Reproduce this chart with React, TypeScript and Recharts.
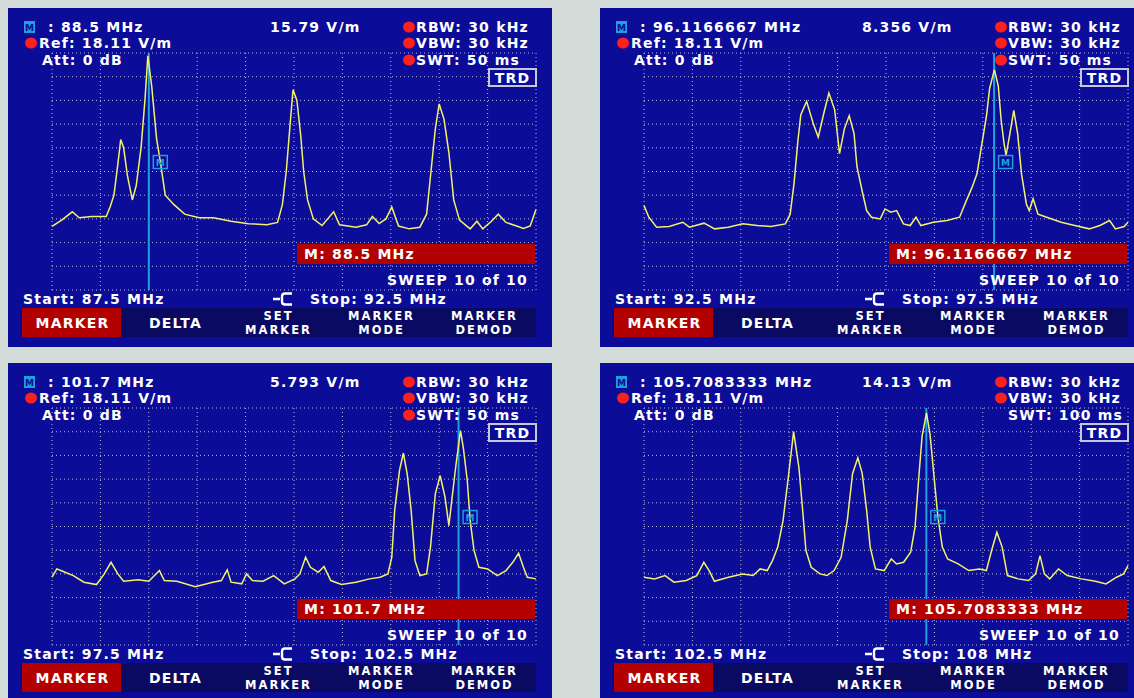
import React from "react";
import {
  LineChart,
  Line,
  XAxis,
  YAxis,
  CartesianGrid,
  ReferenceLine,
  ReferenceDot,
} from "recharts";

// trace levels are in screen divisions (0 = bottom grid line, 10 = reference level)

const p1Freq = [87.5, 87.6, 87.71, 87.78, 87.91, 88.06, 88.1, 88.14, 88.18, 88.21, 88.24, 88.28, 88.33, 88.37, 88.42, 88.46, 88.49, 88.53, 88.58, 88.62, 88.67, 88.76, 88.87, 89.02, 89.17, 89.35, 89.53, 89.72, 89.83, 89.88, 89.92, 89.96, 89.99, 90.03, 90.07, 90.1, 90.14, 90.2, 90.29, 90.41, 90.47, 90.64, 90.75, 90.81, 90.88, 90.95, 91.01, 91.08, 91.19, 91.3, 91.37, 91.41, 91.46, 91.5, 91.55, 91.6, 91.65, 91.71, 91.82, 91.89, 91.95, 92.04, 92.11, 92.19, 92.3, 92.37, 92.44, 92.5];
const p1Level = [2.68, 2.95, 3.3, 3.05, 3.1, 3.1, 3.5, 4.0, 5.3, 6.35, 6.0, 4.8, 3.8, 4.4, 6.0, 8.0, 9.88, 8.6, 6.4, 5.4, 4.0, 3.6, 3.2, 3.05, 3.05, 2.9, 2.8, 2.75, 2.85, 3.6, 5.0, 7.0, 8.45, 8.0, 6.5, 5.0, 3.8, 3.0, 2.72, 3.3, 2.75, 2.65, 2.75, 3.1, 2.8, 3.0, 3.5, 2.7, 2.58, 2.65, 3.2, 4.8, 6.8, 7.85, 7.2, 5.8, 3.8, 2.95, 2.58, 2.9, 2.58, 2.9, 3.2, 2.85, 2.7, 2.6, 2.7, 3.4];

const p2Freq = [92.5, 92.55, 92.63, 92.76, 92.9, 92.97, 93.12, 93.23, 93.37, 93.52, 93.67, 93.81, 93.96, 94.01, 94.05, 94.09, 94.12, 94.18, 94.25, 94.3, 94.36, 94.41, 94.47, 94.52, 94.57, 94.62, 94.67, 94.7, 94.76, 94.8, 94.85, 94.94, 94.99, 95.05, 95.11, 95.18, 95.25, 95.31, 95.36, 95.49, 95.63, 95.76, 95.83, 95.89, 95.94, 95.98, 96.04, 96.07, 96.12, 96.16, 96.19, 96.22, 96.24, 96.28, 96.32, 96.36, 96.4, 96.45, 96.48, 96.52, 96.57, 96.66, 96.81, 96.95, 97.1, 97.21, 97.31, 97.37, 97.46, 97.5];
const p2Level = [3.56, 3.07, 2.65, 2.68, 2.86, 2.65, 2.82, 2.58, 2.65, 2.79, 2.72, 2.68, 2.79, 3.2, 4.5, 6.3, 7.4, 7.96, 7.0, 6.45, 7.5, 8.31, 7.6, 5.75, 6.8, 7.35, 6.6, 5.2, 4.06, 3.35, 3.07, 3.0, 3.42, 3.28, 3.35, 2.79, 2.72, 3.07, 2.72, 2.86, 2.93, 3.07, 3.77, 4.34, 4.9, 5.9, 7.4, 8.5, 9.3, 8.6, 7.15, 6.17, 5.68, 6.6, 7.58, 6.6, 4.9, 3.63, 3.35, 3.85, 3.2, 3.07, 2.86, 2.72, 2.58, 2.72, 2.93, 2.58, 2.68, 2.86];

const p3Freq = [97.5, 97.55, 97.61, 97.72, 97.83, 97.96, 98.04, 98.11, 98.18, 98.24, 98.39, 98.5, 98.61, 98.66, 98.79, 98.98, 99.16, 99.25, 99.31, 99.35, 99.46, 99.51, 99.57, 99.68, 99.79, 99.9, 100.01, 100.06, 100.12, 100.17, 100.25, 100.31, 100.38, 100.49, 100.64, 100.78, 100.89, 100.97, 101.01, 101.04, 101.09, 101.13, 101.17, 101.21, 101.25, 101.3, 101.37, 101.41, 101.46, 101.51, 101.56, 101.6, 101.63, 101.67, 101.72, 101.75, 101.79, 101.82, 101.86, 101.91, 102.0, 102.1, 102.19, 102.26, 102.32, 102.37, 102.41, 102.5];
const p3Level = [2.86, 3.21, 3.11, 2.93, 2.65, 2.55, 3.0, 3.49, 3.0, 2.69, 2.75, 2.69, 3.14, 2.72, 2.69, 2.46, 2.65, 2.72, 3.17, 2.65, 2.58, 3.0, 2.72, 2.69, 2.93, 2.58, 2.79, 3.0, 3.7, 3.28, 3.07, 3.31, 2.72, 2.55, 2.65, 2.79, 2.86, 3.0, 3.7, 5.68, 7.37, 8.1, 7.2, 5.68, 3.56, 2.93, 3.0, 4.13, 6.38, 7.15, 6.24, 5.04, 6.1, 7.5, 9.05, 8.3, 6.94, 5.25, 3.99, 3.28, 3.21, 2.93, 3.14, 3.49, 3.87, 3.28, 2.86, 2.79];

const p4Freq = [102.5, 102.62, 102.74, 102.84, 102.98, 103.1, 103.18, 103.24, 103.3, 103.46, 103.62, 103.74, 103.82, 103.9, 103.96, 104.02, 104.08, 104.14, 104.2, 104.26, 104.3, 104.34, 104.4, 104.5, 104.58, 104.66, 104.74, 104.81, 104.87, 104.93, 104.98, 105.03, 105.07, 105.13, 105.23, 105.31, 105.37, 105.45, 105.53, 105.58, 105.62, 105.66, 105.71, 105.75, 105.8, 105.84, 105.89, 105.95, 106.07, 106.19, 106.31, 106.39, 106.45, 106.51, 106.57, 106.63, 106.75, 106.87, 106.95, 107.0, 107.05, 107.11, 107.21, 107.31, 107.47, 107.63, 107.75, 107.87, 107.95, 108.0];
const p4Level = [2.86, 2.79, 2.93, 2.65, 2.72, 2.93, 3.49, 3.14, 2.69, 2.86, 3.0, 2.93, 3.21, 3.14, 3.56, 4.13, 5.25, 7.08, 9.0, 7.5, 5.82, 3.99, 3.28, 3.0, 2.93, 3.14, 3.7, 5.25, 7.23, 7.9, 7.23, 5.68, 4.13, 3.21, 3.14, 3.63, 3.42, 3.49, 3.92, 4.97, 6.94, 8.8, 9.79, 8.9, 6.94, 5.4, 4.13, 3.63, 3.42, 3.14, 3.21, 3.14, 3.99, 4.76, 4.13, 2.93, 2.79, 2.72, 3.0, 3.77, 3.0, 2.79, 3.21, 2.93, 2.79, 2.69, 2.58, 2.86, 3.0, 3.35];

const p1Ticks = [87.5, 88, 88.5, 89, 89.5, 90, 90.5, 91, 91.5, 92, 92.5];
const p2Ticks = [92.5, 93, 93.5, 94, 94.5, 95, 95.5, 96, 96.5, 97, 97.5];
const p3Ticks = [97.5, 98, 98.5, 99, 99.5, 100, 100.5, 101, 101.5, 102, 102.5];
const p4Ticks = [102.5, 103.05, 103.6, 104.15, 104.7, 105.25, 105.8, 106.35, 106.9, 107.45, 108];
const levelTicks = [0, 1, 2, 3, 4, 5, 6, 7, 8, 9, 10];

const markerFreqs = [88.5, 96.1166667, 101.7, 105.7083333];
const markerLabels = ["88.5 MHz", "96.1166667 MHz", "101.7 MHz", "105.7083333 MHz"];
const markerValues = ["15.79 V/m", "8.356 V/m", "5.793 V/m", "14.13 V/m"];
const sweepTimes = ["50 ms", "50 ms", "50 ms", "100 ms"];
const startLabels = ["87.5 MHz", "92.5 MHz", "97.5 MHz", "102.5 MHz"];
const stopLabels = ["92.5 MHz", "97.5 MHz", "102.5 MHz", "108 MHz"];
const softkeys = [["MARKER"], ["DELTA"], ["SET", "MARKER"], ["MARKER", "MODE"], ["MARKER", "DEMOD"]];

const PAGE_BG = "#d4dcd9";
const SCREEN = "#0b0c98";
const STRIP = "#0a0a62";
const RED = "#b30000";
const DOT_RED = "#ff1f1f";
const TRACE = "#f2f26c";
const MARKER_BLUE = "#1f9fdc";
const GRID = "#b9b9dc";
const W = 544;
const H = 339;

const font = {
  fontFamily: "'DejaVu Sans', Verdana, sans-serif",
  fontWeight: 700,
  fontSize: 14,
  letterSpacing: 1.2,
  fill: "#ffffff",
} as const;

const keyFont = { ...font, fontSize: 11.5, letterSpacing: 2 } as const;

function MarkerBox(props: any) {
  const { cx, cy } = props;
  if (cx == null || cy == null) return null;
  const x = cx + 11.5;
  return (
    <g>
      <rect x={x - 7} y={cy - 6.5} width={14} height={13} fill="none" stroke={MARKER_BLUE} strokeWidth={1.5} />
      <text x={x} y={cy + 0.5} textAnchor="middle" dominantBaseline="central" fontSize={9} fontWeight={700} fill={MARKER_BLUE} fontFamily="'DejaVu Sans', sans-serif">
        M
      </text>
    </g>
  );
}

function Overlay({ i }: { i: number }) {
  const dot = (cx: number, cy: number) => <ellipse cx={cx} cy={cy} rx={6} ry={5.5} fill={DOT_RED} />;
  return (
    <svg width={W} height={H} style={{ position: "absolute", left: 0, top: 0, pointerEvents: "none" }}>
      {/* header */}
      <rect x={16} y={13} width={11} height={12} fill={MARKER_BLUE} />
      <text x={21.5} y={19.5} textAnchor="middle" dominantBaseline="central" fontSize={9} fontWeight={700} fill={SCREEN} fontFamily="'DejaVu Sans', sans-serif">
        M
      </text>
      <text {...font} x={40} y={19} dominantBaseline="central">
        : {markerLabels[i]}
      </text>
      <text {...font} x={262} y={19} dominantBaseline="central">
        {markerValues[i]}
      </text>
      {dot(23, 35)}
      <text {...font} x={31} y={35} dominantBaseline="central">
        Ref: 18.11 V/m
      </text>
      <text {...font} x={34} y={52} dominantBaseline="central">
        Att: 0 dB
      </text>
      {dot(401, 19)}
      <text {...font} x={408} y={19} dominantBaseline="central">
        RBW: 30 kHz
      </text>
      {dot(401, 35)}
      <text {...font} x={408} y={35} dominantBaseline="central">
        VBW: 30 kHz
      </text>
      {i < 3 && dot(401, 52)}
      <text {...font} x={408} y={52} dominantBaseline="central">
        SWT: {sweepTimes[i]}
      </text>
      <rect x={481} y={61} width={47} height={17} fill={SCREEN} stroke="#c8c8d4" strokeWidth={2} />
      <text {...font} x={504.5} y={69.5} textAnchor="middle" dominantBaseline="central">
        TRD
      </text>

      {/* marker readout bar */}
      <rect x={289} y={236} width={238} height={20} fill={RED} />
      <text {...font} x={296} y={246} dominantBaseline="central">
        M: {markerLabels[i]}
      </text>
      <text {...font} x={520} y={272} textAnchor="end" dominantBaseline="central">
        SWEEP 10 of 10
      </text>

      {/* span line */}
      <text {...font} x={15} y={291} dominantBaseline="central">
        Start: {startLabels[i]}
      </text>
      <path d="M265 291 H272 M284 285.5 H277 Q274 285.5 274 288.5 V293.5 Q274 296.5 277 296.5 H284" stroke="#fff" strokeWidth={2.4} fill="none" />
      <text {...font} x={302} y={291} dominantBaseline="central">
        Stop: {stopLabels[i]}
      </text>

      {/* softkeys */}
      <rect x={13} y={300} width={515} height={29} fill={STRIP} />
      <rect x={14} y={300} width={99} height={29} fill={RED} />
      {softkeys.map((k, j) => {
        const cx = 64.5 + j * 103;
        if (k.length === 1)
          return (
            <text key={j} {...font} x={cx} y={315} textAnchor="middle" dominantBaseline="central">
              {k[0]}
            </text>
          );
        return (
          <g key={j}>
            <text {...keyFont} x={cx} y={307.5} textAnchor="middle" dominantBaseline="central">
              {k[0]}
            </text>
            <text {...keyFont} x={cx} y={321.5} textAnchor="middle" dominantBaseline="central">
              {k[1]}
            </text>
          </g>
        );
      })}
    </svg>
  );
}

function Panel({
  i,
  left,
  top,
  freq,
  level,
  ticks,
}: {
  i: number;
  left: number;
  top: number;
  freq: number[];
  level: number[];
  ticks: number[];
}) {
  const data = freq.map((f, k) => ({ f, v: level[k] }));
  return (
    <div style={{ position: "absolute", left, top, width: W, height: H, background: SCREEN, overflow: "hidden" }}>
      <div style={{ position: "absolute", left: 0, top: 0 }}>
        <LineChart width={W} height={H} data={data} margin={{ top: 45, right: 16, bottom: 57, left: 44 }}>
          <CartesianGrid stroke={GRID} strokeDasharray="1 3" strokeWidth={1} />
          <XAxis type="number" dataKey="f" domain={[ticks[0], ticks[ticks.length - 1]]} ticks={ticks} hide />
          <YAxis type="number" domain={[0, 10]} ticks={levelTicks} hide />
          <ReferenceLine x={markerFreqs[i]} stroke={MARKER_BLUE} strokeWidth={2} />
          <Line
            type="linear"
            dataKey="v"
            stroke={TRACE}
            strokeWidth={1.5}
            dot={false}
            isAnimationActive={false}
          />
          <ReferenceDot x={markerFreqs[i]} y={5.4} r={6} shape={MarkerBox} />
        </LineChart>
      </div>
      <Overlay i={i} />
    </div>
  );
}

export default function App() {
  return (
    <div style={{ position: "fixed", left: 0, top: 0, width: 1134, height: 698, background: PAGE_BG, overflow: "hidden" }}>
      <Panel i={0} left={8} top={8} freq={p1Freq} level={p1Level} ticks={p1Ticks} />
      <Panel i={1} left={600} top={8} freq={p2Freq} level={p2Level} ticks={p2Ticks} />
      <Panel i={2} left={8} top={363} freq={p3Freq} level={p3Level} ticks={p3Ticks} />
      <Panel i={3} left={600} top={363} freq={p4Freq} level={p4Level} ticks={p4Ticks} />
    </div>
  );
}
